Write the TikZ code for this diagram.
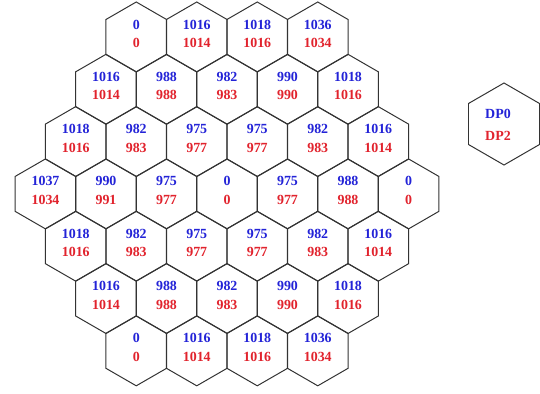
\documentclass[tikz,border=0pt]{standalone}
\usepackage{fontspec}
\setmainfont{Liberation Serif}
\usetikzlibrary{shapes.geometric}
\definecolor{dpblue}{RGB}{35,35,215}
\definecolor{dpred}{RGB}{225,35,45}
\tikzset{
	hexcell/.style={regular polygon, regular polygon sides=6, shape border rotate=90, draw=black!80, line width=1pt, minimum size=70bp, inner sep=0pt},
	dpzero/.style={text=dpblue, font=\fontsize{14}{16}\selectfont\bfseries, inner sep=0pt},
	dptwo/.style={text=dpred, font=\fontsize{14}{16}\selectfont\bfseries, inner sep=0pt}
}
\begin{document}
\begin{tikzpicture}[x=1bp, y=1bp]
	\useasboundingbox (0,0) rectangle (540,393);
	\foreach \r/\n/\vals in {
		0/4/{0/0,1016/1014,1018/1016,1036/1034},
		1/5/{1016/1014,988/988,982/983,990/990,1018/1016},
		2/6/{1018/1016,982/983,975/977,975/977,982/983,1016/1014},
		3/7/{1037/1034,990/991,975/977,0/0,975/977,988/988,0/0},
		4/6/{1018/1016,982/983,975/977,975/977,982/983,1016/1014},
		5/5/{1016/1014,988/988,982/983,990/990,1018/1016},
		6/4/{0/0,1016/1014,1018/1016,1036/1034}} {
		\foreach \a/\b [count=\k from 0] in \vals {
			\node[hexcell] (h-\r-\k) at ({227+60.5*(\k-(\n-1)/2)}, {356-52.3*\r}) {};
			\node[dpzero] (p0-\r-\k) at ([yshift=12.5bp]h-\r-\k.center) {\a};
			\node[dptwo] (p2-\r-\k) at ([yshift=-6bp]h-\r-\k.center) {\b};
		}
	}
	% legend
	\node[hexcell, minimum size=82bp] (legend) at (504,269) {};
	\node[dpzero] (legend-0) at ([xshift=-6bp, yshift=10bp]legend.center) {DP0};
	\node[dptwo] (legend-2) at ([xshift=-6bp, yshift=-12bp]legend.center) {DP2};
\end{tikzpicture}
\end{document}
